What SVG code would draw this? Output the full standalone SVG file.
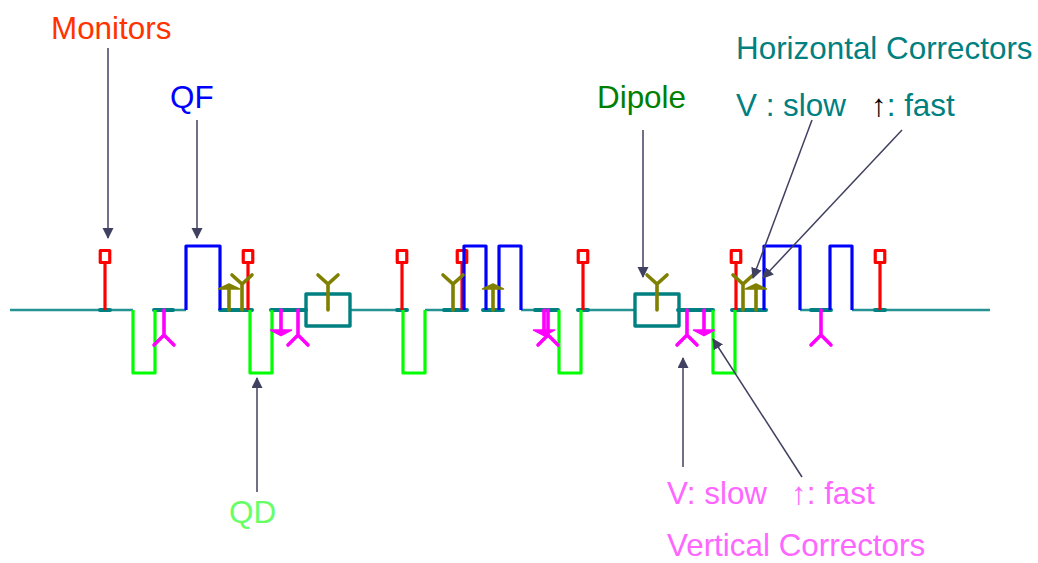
<svg xmlns="http://www.w3.org/2000/svg" width="1038" height="563" viewBox="0 0 1038 563">
<style>
text{font-family:"Liberation Sans",Arial,sans-serif;font-size:31.4px}
.ar{font-family:"Liberation Serif",serif;font-size:31.4px}
.thin{stroke:#008080;stroke-width:2.6;fill:none;opacity:.85}
.thick{stroke:#008080;stroke-width:4;fill:none;stroke-linecap:round}
.box{stroke:#008080;stroke-width:3.4;fill:none;stroke-linejoin:round}
.g{stroke:#00ff00;stroke-width:3.2;fill:none;stroke-linejoin:round}
.b{stroke:#0000ff;stroke-width:3.2;fill:none;stroke-linejoin:round}
.r{stroke:#ff0000;stroke-width:3.2;fill:none;stroke-linejoin:round}
.o{stroke:#808000;stroke-width:3.6;fill:none;stroke-linecap:round}
.m{stroke:#ff00ff;stroke-width:3.6;fill:none;stroke-linecap:round}
.of{fill:#808000;stroke:#808000;stroke-width:1.5;stroke-linejoin:round}
.mf{fill:#ff00ff;stroke:#ff00ff;stroke-width:1.5;stroke-linejoin:round}
.c{stroke:#404060;stroke-width:1.5;fill:none;marker-end:url(#ah)}
</style>
<defs>
<marker id="ah" markerUnits="userSpaceOnUse" markerWidth="12" markerHeight="14" refX="10" refY="5.5" orient="auto"><path d="M0 0L11 5.500L0 11Z" fill="#404060"/></marker>
<g id="mon"><rect x="-4.750" y="-59.500" width="9.500" height="12" class="r"/><path d="M0-47.500V0" class="r"/></g>
<g id="yo"><path d="M0 0V-26M-10-35L0-26L10-35" class="o"/></g>
<g id="ym"><path d="M0 0V25M-10 35L0 25L10 35" class="m"/></g>
<g id="ao"><path d="M0 0V-22" class="o"/><path d="M-10.500-21H10.500L0-26Z" class="of"/></g>
<g id="am"><path d="M0 0V20" class="m"/><path d="M-10.500 20H10.500L0 25.500Z" class="mf"/></g>
</defs>
<g id="beamline">
<path class="thin" d="M10 310H133M155 310H186M220 310H250M272 310H306M350 310H403M425 310H464M486 310H499M521 310H559M581 310H634M679 310H713M735 310H764M800 310H830M852 310H990"/>
<path class="thick" d="M100 310H110M154 310H173M220 310H252M271 310H306M397 310H407M444 310H467M483 310H503M535 310H558M578 310H588M678 310H713M732 310H766M811 310H831M875 310H885"/>
</g>
<g id="qd-magnets">
<path class="g" d="M133 310V373H155V310"/><path class="g" d="M250 310V373H272V310"/><path class="g" d="M403 310V373H425V310"/><path class="g" d="M559 310V373H581V310"/><path class="g" d="M713 310V373H735V310"/>
</g>
<g id="monitors">
<use href="#mon" x="105" y="310"/><use href="#mon" x="248" y="310"/><use href="#mon" x="402" y="310"/><use href="#mon" x="462" y="310"/><use href="#mon" x="583" y="310"/><use href="#mon" x="736" y="310"/><use href="#mon" x="880" y="310"/>
</g>
<g id="qf-magnets">
<path class="b" d="M186 310V246H220V310"/><path class="b" d="M464 310V246H486V310"/><path class="b" d="M499 310V246H521V310"/><path class="b" d="M764 310V246H800V310"/><path class="b" d="M830 310V246H852V310"/>
</g>
<g id="dipoles">
<rect class="box" x="306" y="294" width="44" height="32"/><rect class="box" x="635" y="294" width="44" height="32"/>
</g>
<g id="h-correctors">
<use href="#ao" x="229" y="310"/><use href="#yo" x="242" y="310"/><use href="#yo" x="328" y="310"/><use href="#yo" x="453" y="310"/><use href="#ao" x="493" y="310"/><use href="#yo" x="657" y="310"/><use href="#yo" x="743" y="310"/><use href="#ao" x="756" y="310"/>
</g>
<g id="v-correctors">
<use href="#ym" x="164" y="310"/><use href="#am" x="281" y="310"/><use href="#ym" x="298" y="310"/><use href="#am" x="544" y="310"/><use href="#ym" x="548" y="310"/><use href="#ym" x="687" y="310"/><use href="#am" x="704" y="310"/><use href="#ym" x="821" y="310"/>
</g>
<g id="connectors">
<path class="c" d="M108 48V238"/><path class="c" d="M197 120V238"/><path class="c" d="M257 492V378"/><path class="c" d="M643 130V277"/><path class="c" d="M683 467V358"/><path class="c" d="M802 477L713 339"/><path class="c" d="M812 120L753 278"/><path class="c" d="M902 130L763 278"/>
</g>
<g id="labels">
<text x="51" y="39" fill="#ff3300">Monitors</text>
<text x="170" y="108" fill="#0000ff">QF</text>
<text x="229" y="523" fill="#66ff66">QD</text>
<text x="597" y="108" fill="#008000">Dipole</text>
<text x="736" y="59" fill="#008080">Horizontal Correctors</text>
<text x="736" y="116" fill="#008080">V : slow</text>
<text x="871" y="116" fill="#008080"><tspan class="ar" fill="#000000">↑</tspan><tspan>: fast</tspan></text>
<text x="667" y="504" fill="#ff66ff">V: slow</text>
<text x="791" y="504" fill="#ff66ff"><tspan class="ar">↑</tspan><tspan>: fast</tspan></text>
<text x="667" y="556.300" fill="#ff66ff">Vertical Correctors</text>
</g>
</svg>
